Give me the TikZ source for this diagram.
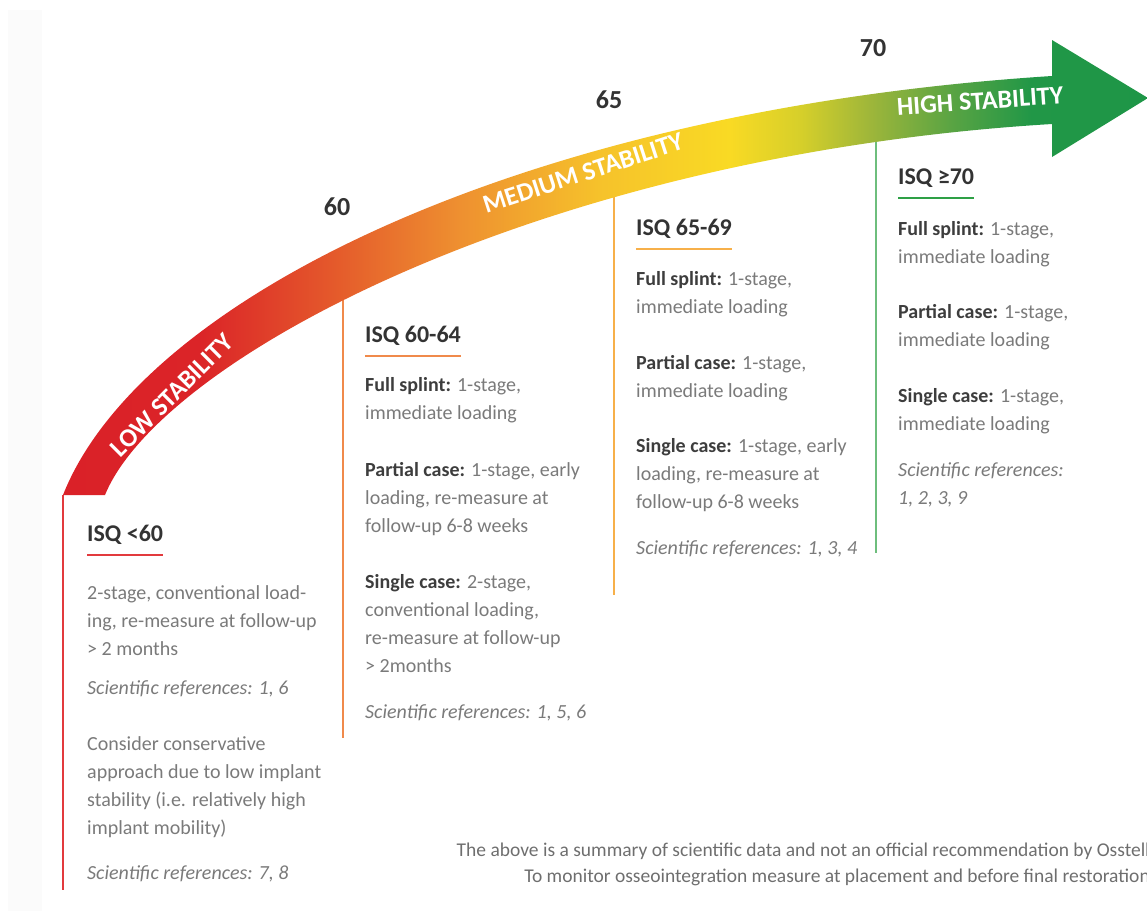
\documentclass[tikz,border=0pt]{standalone}
\usepackage{fontspec}
\setmainfont{Carlito}
\usepackage{tikz}
\usetikzlibrary{positioning}
\definecolor{headgray}{RGB}{51,51,51}
\definecolor{keygray}{RGB}{61,61,61}
\definecolor{bodygray}{RGB}{122,122,122}
\definecolor{footgray}{RGB}{110,110,110}
\definecolor{paper}{RGB}{251,251,251}
\definecolor{linered}{RGB}{226,58,62}
\definecolor{lineorange}{RGB}{240,138,75}
\definecolor{lineyellow}{RGB}{247,176,74}
\definecolor{linegreen}{RGB}{110,190,125}
\definecolor{markgreen}{RGB}{46,160,70}
\definecolor{band1}{RGB}{218,33,40}
\definecolor{band2}{RGB}{219,36,40}
\definecolor{band3}{RGB}{228,88,43}
\definecolor{band4}{RGB}{238,144,48}
\definecolor{band5}{RGB}{246,194,43}
\definecolor{band6}{RGB}{249,218,36}
\definecolor{band7}{RGB}{214,207,42}
\definecolor{band8}{RGB}{158,182,58}
\definecolor{band9}{RGB}{90,164,67}
\definecolor{band10}{RGB}{33,151,71}
\definecolor{band11}{RGB}{30,150,71}
\pgfdeclarehorizontalshading{stability}{100bp}{color(0bp)=(band1); color(25bp)=(band1);
  color(31.3bp)=(band2); color(37.3bp)=(band3); color(43.3bp)=(band4);
  color(49.7bp)=(band5); color(55.7bp)=(band6); color(59bp)=(band7);
  color(62.2bp)=(band8); color(65.9bp)=(band9); color(69.6bp)=(band10);
  color(75bp)=(band11); color(100bp)=(band11)}
\newcommand{\casekey}[1]{\textcolor{keygray}{\bfseries #1}}
\tikzset{
  isqhead/.style={font=\fontsize{24}{28}\selectfont\bfseries, text=headgray,
    anchor=base west, inner sep=0pt},
  isqmark/.style={font=\fontsize{26}{28}\selectfont\bfseries, text=headgray},
  bandlabel/.style={font=\fontsize{26}{28}\selectfont\bfseries, text=white},
  bodytext/.style={font=\fontsize{20}{28}\selectfont, text=bodygray, align=left,
    anchor=base west, inner sep=0pt},
  reftext/.style={bodytext, font=\fontsize{20}{28}\selectfont\itshape},
  foottext/.style={font=\fontsize{19.5}{26}\selectfont, text=footgray, anchor=base east,
    inner sep=0pt},
  colrule/.style={line width=1.6pt},
  headrule/.style={line width=2.6pt}
}

\begin{document}
\begin{tikzpicture}[x=1pt,y=-1pt]
\useasboundingbox (0,0) rectangle (1147,911);
\fill[paper] (8,10) rectangle (42,911);

% column rules first, the band covers their upper ends
\draw[colrule,linered] (63,495) -- (63,890);
\draw[colrule,lineorange] (343,270) -- (343,738);
\draw[colrule,lineyellow] (614,170) -- (614,595);
\draw[colrule,linegreen] (876,115) -- (876,553);

% curved band with arrow head
\shade[shading=stability] (63,495) .. controls (140,300) and (520,110) .. (1052,76)
  -- (1052,40) -- (1148,98) -- (1052,157) -- (1052,124)
  .. controls (540,155) and (160,360) .. (105,495) -- cycle;

\node[bandlabel, rotate=45] (low) at (172,395) {LOW STABILITY};
\node[bandlabel, rotate=18] (medium) at (583,173) {MEDIUM STABILITY};
\node[bandlabel, rotate=4] (high) at (980,101) {HIGH STABILITY};

\node[isqmark] (m60) at (337,207) {60};
\node[isqmark] (m65) at (609,100) {65};
\node[isqmark] (m70) at (873,48) {70};

% ISQ < 60 (multi-line nodes sit on their last baseline)
\node[isqhead] (h1) at (87,541) {ISQ <60};
\draw[headrule,linered] ([yshift=-14pt]h1.base west) -- ([yshift=-14pt]h1.base east);
\node[bodytext] (b1) at (87,655) {2-stage, conventional load-\\ing, re-measure at follow-up\\> 2 months};
\node[reftext] (r1) at (87,694) {Scientific references: 1, 6};
\node[bodytext] (c1) at (87,834) {Consider conservative\\approach due to low implant\\stability (i.e. relatively high\\implant mobility)};
\node[reftext] (r1b) at (87,879) {Scientific references: 7, 8};

% ISQ 60-64
\node[isqhead] (h2) at (365,342) {ISQ 60-64};
\draw[headrule,lineorange] ([yshift=-14pt]h2.base west) -- ([yshift=-14pt]h2.base east);
\node[bodytext] (f2) at (365,419) {\casekey{Full splint:} 1-stage,\\immediate loading};
\node[bodytext] (p2) at (365,532) {\casekey{Partial case:} 1-stage, early\\loading, re-measure at\\follow-up 6-8 weeks};
\node[bodytext] (s2) at (365,672) {\casekey{Single case:} 2-stage,\\conventional loading,\\re-measure at follow-up\\> 2months};
\node[reftext] (r2) at (365,718) {Scientific references: 1, 5, 6};

% ISQ 65-69
\node[isqhead] (h3) at (636,235) {ISQ 65-69};
\draw[headrule,lineyellow] ([yshift=-14pt]h3.base west) -- ([yshift=-14pt]h3.base east);
\node[bodytext] (f3) at (636,313) {\casekey{Full splint:} 1-stage,\\immediate loading};
\node[bodytext] (p3) at (636,397) {\casekey{Partial case:} 1-stage,\\immediate loading};
\node[bodytext] (s3) at (636,508) {\casekey{Single case:} 1-stage, early\\loading, re-measure at\\follow-up 6-8 weeks};
\node[reftext] (r3) at (636,554) {Scientific references: 1, 3, 4};

% ISQ >= 70
\node[isqhead] (h4) at (898,184) {ISQ ≥70};
\draw[headrule,markgreen] ([yshift=-14pt]h4.base west) -- ([yshift=-14pt]h4.base east);
\node[bodytext] (f4) at (898,263) {\casekey{Full splint:} 1-stage,\\immediate loading};
\node[bodytext] (p4) at (898,346) {\casekey{Partial case:} 1-stage,\\immediate loading};
\node[bodytext] (s4) at (898,430) {\casekey{Single case:} 1-stage,\\immediate loading};
\node[reftext] (r4) at (898,504) {Scientific references:\\1, 2, 3, 9};

\node[foottext] (note1) at (1150,856) {The above is a summary of scientific data and not an official recommendation by Osstell};
\node[foottext] (note2) at (1150,882) {To monitor osseointegration measure at placement and before final restoration};
\end{tikzpicture}
\end{document}
